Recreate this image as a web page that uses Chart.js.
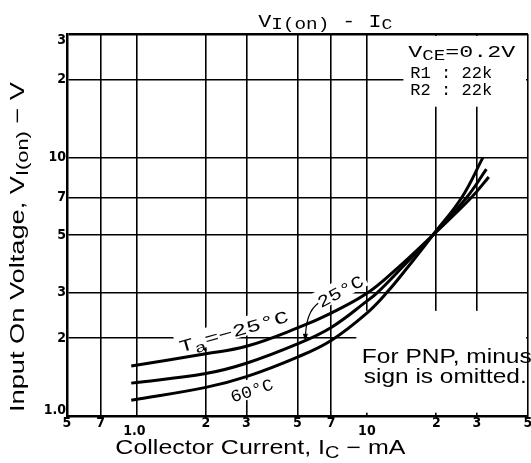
<!DOCTYPE html>
<html>
<head>
<meta charset="utf-8">
<script src="https://cdn.jsdelivr.net/npm/chart.js@4.4.1/dist/chart.umd.min.js"></script>
<style>
  html, body { margin: 0; padding: 0; background: #fff; }
  canvas { display: block; }
</style>
</head>
<body>
<canvas id="chart" width="531" height="463"></canvas>
<script>
// Axis ticks (log-log grid)
const xTicks = [0.5, 0.7, 1, 2, 3, 5, 7, 10, 20, 30, 50];
const xTickLabels = ['5', '7', '1.0', '2', '3', '5', '7', '10', '2', '3', '5'];
const yTicks = [1, 2, 3, 5, 7, 10, 20, 30];
const yTickLabels = ['1.0', '2', '3', '5', '7', '10', '2', '3'];

// Curves: IC (mA) vs VI(on) (V)
const icM25 = [0.95, 2, 3, 5, 7, 10, 13.2, 19.3, 28.4, 33.8];
const viM25 = [1.56, 1.74, 1.86, 2.19, 2.50, 2.98, 3.65, 5.0, 7.0, 8.4];
const ic25 = [0.95, 2, 3, 5, 7, 10, 11.1, 14, 19.3, 27.1, 33.0];
const vi25 = [1.34, 1.46, 1.60, 1.90, 2.2, 2.78, 3.0, 3.7, 5.0, 7.0, 9.0];
const ic60 = [0.95, 2, 3, 5, 7, 10, 12.2, 15, 19.3, 25.8, 31.9];
const vi60 = [1.15, 1.29, 1.42, 1.69, 1.96, 2.5, 3.0, 3.75, 5.0, 7.0, 10.0];

const pts = (xs, ys) => xs.map((x, i) => ({ x: x, y: ys[i] }));

const MONO = "'Liberation Mono', 'DejaVu Sans Mono', monospace";
const SANS = "'Liberation Sans', Arial, sans-serif";
const TICKF = "bold 14px 'DejaVu Sans Condensed', 'DejaVu Sans', sans-serif";

// draw a run of text pieces (for sub-scripts), squeezed/stretched to a width
function richText(ctx, parts, x, y, width, align) {
  let total = 0;
  parts.forEach(p => { ctx.font = p.font; p.w = ctx.measureText(p.t).width; total += p.w; });
  const s = width ? width / total : 1;
  ctx.save();
  ctx.translate(x, y);
  ctx.scale(s, 1);
  let cx = align === 'center' ? -total / 2 : 0;
  ctx.textAlign = 'left';
  ctx.textBaseline = 'alphabetic';
  parts.forEach(p => { ctx.font = p.font; ctx.fillText(p.t, cx, p.dy || 0); cx += p.w; });
  ctx.restore();
}

function rotatedLabel(ctx, parts, cx, cy, angle, width, bg) {
  ctx.save();
  ctx.translate(cx, cy);
  ctx.rotate(angle * Math.PI / 180);
  if (bg) {
    ctx.fillStyle = '#fff';
    ctx.fillRect(-width / 2 - 3, -11, width + 6, 19);
  } else {
    ctx.fillStyle = '#000';
    richText(ctx, parts, 0, 6, width, 'center');
  }
  ctx.restore();
}

const labels = [
  { parts: [{ t: 'T', font: '17px ' + MONO }, { t: 'a', font: '14px ' + MONO, dy: 5 }, { t: '=\u221225\u00b0C', font: '17px ' + MONO }], x: 2.64, y: 2.13, angle: -16, w: 113 },
  { parts: [{ t: '25\u00b0C', font: '17px ' + MONO }], x: 7.66, y: 3.04, angle: -28, w: 50 },
  { parts: [{ t: '60\u00b0C', font: '17px ' + MONO }], x: 3.16, y: 1.26, angle: -18, w: 44 }
];

const annotate = {
  id: 'annotate',
  beforeDatasetsDraw(chart) {
    const ctx = chart.ctx, xs = chart.scales.x, ys = chart.scales.y;
    ctx.save();
    ctx.fillStyle = '#fff';
    // note boxes
    ctx.fillRect(xs.getPixelForValue(14.4), ys.getPixelForValue(30) + 2, xs.getPixelForValue(50) - xs.getPixelForValue(14.4) - 2, ys.getPixelForValue(15.7) - ys.getPixelForValue(30) - 2);
    ctx.fillRect(xs.getPixelForValue(9.0), ys.getPixelForValue(2.55), xs.getPixelForValue(50) - xs.getPixelForValue(9.0) - 2, ys.getPixelForValue(1.03) - ys.getPixelForValue(2.55));
    labels.forEach(l => rotatedLabel(ctx, l.parts, xs.getPixelForValue(l.x), ys.getPixelForValue(l.y), l.angle, l.w, true));
    ctx.restore();
  },
  afterDatasetsDraw(chart) {
    const ctx = chart.ctx, xs = chart.scales.x, ys = chart.scales.y;
    const a = chart.chartArea;
    ctx.save();
    ctx.fillStyle = '#000';
    ctx.strokeStyle = '#000';

    // tick labels
    ctx.font = TICKF;
    ctx.textAlign = 'center';
    ctx.textBaseline = 'middle';
    xTicks.forEach((v, i) => {
      const lab = xTickLabels[i];
      const low = (lab === '1.0' || lab === '10');
      ctx.fillText(lab, xs.getPixelForValue(v) + (lab === '1.0' ? -2 : 0), a.bottom + (low ? 15 : 7));
    });
    ctx.textAlign = 'right';
    yTicks.forEach((v, i) => {
      let off = 0;
      if (v === 30) off = 6;
      if (v === 1) off = -6;
      ctx.fillText(yTickLabels[i], a.left - 1, ys.getPixelForValue(v) + off);
    });

    // title
    const tx = xs.getPixelForValue(6.6);
    richText(ctx, [
      { t: 'V', font: '18px ' + MONO },
      { t: 'I(on)', font: '16px ' + MONO, dy: 2 },
      { t: ' - I', font: '18px ' + MONO },
      { t: 'C', font: '15px ' + MONO, dy: 2 }
    ], tx, 27, 134, 'center');

    // axis titles
    richText(ctx, [
      { t: 'Collector Current, I', font: '20px ' + SANS },
      { t: 'C', font: '16px ' + SANS, dy: 4 },
      { t: ' \u2212 mA', font: '20px ' + SANS }
    ], xs.getPixelForValue(3.45), 454, 290, 'center');
    ctx.save();
    ctx.translate(24, ys.getPixelForValue(4.5));
    ctx.rotate(-Math.PI / 2);
    richText(ctx, [
      { t: 'Input On Voltage, V', font: '20px ' + SANS },
      { t: 'I(on)', font: '16px ' + SANS, dy: 4 },
      { t: ' \u2212 V', font: '20px ' + SANS }
    ], 0, 0, 330, 'center');
    ctx.restore();

    // condition box
    const bx = xs.getPixelForValue(15.1);
    richText(ctx, [
      { t: 'V', font: '17px ' + MONO },
      { t: 'CE', font: '14px ' + MONO, dy: 3 },
      { t: '=0.2V', font: '17px ' + MONO }
    ], bx, ys.getPixelForValue(30) + 23, 107, 'left');
    richText(ctx, [{ t: 'R1 : 22k', font: '17px ' + MONO }], bx + 2, ys.getPixelForValue(20) - 2, 82, 'left');
    richText(ctx, [{ t: 'R2 : 22k', font: '17px ' + MONO }], bx + 2, ys.getPixelForValue(20) + 15, 82, 'left');

    // PNP note
    const nx = xs.getPixelForValue(9.5);
    richText(ctx, [{ t: 'For PNP, minus', font: '20px ' + SANS }], nx, ys.getPixelForValue(1.6), 170, 'left');
    richText(ctx, [{ t: 'sign is omitted.', font: '20px ' + SANS }], nx + 2, ys.getPixelForValue(1.6) + 20, 163, 'left');

    // curve labels
    labels.forEach(l => rotatedLabel(ctx, l.parts, xs.getPixelForValue(l.x), ys.getPixelForValue(l.y), l.angle, l.w, false));

    // leader for 25°C
    const p0 = [xs.getPixelForValue(6.15), ys.getPixelForValue(2.73)];
    const pc = [xs.getPixelForValue(5.41), ys.getPixelForValue(2.52)];
    const p1 = [xs.getPixelForValue(5.41), ys.getPixelForValue(1.97)];
    ctx.lineWidth = 1.2;
    ctx.beginPath();
    ctx.moveTo(p0[0], p0[1]);
    ctx.quadraticCurveTo(pc[0], pc[1], p1[0], p1[1]);
    ctx.stroke();
    ctx.beginPath();
    ctx.moveTo(p1[0], p1[1] + 2);
    ctx.lineTo(p1[0] - 2.5, p1[1] - 6);
    ctx.lineTo(p1[0] + 2.5, p1[1] - 6);
    ctx.closePath();
    ctx.fill();
    ctx.restore();
  }
};

const lineStyle = { borderColor: '#000', borderWidth: 3, pointRadius: 0, tension: 0.4, fill: false };

new Chart(document.getElementById('chart'), {
  type: 'line',
  data: {
    datasets: [
      Object.assign({ label: 'Ta = -25°C', data: pts(icM25, viM25) }, lineStyle),
      Object.assign({ label: 'Ta = 25°C', data: pts(ic25, vi25) }, lineStyle),
      Object.assign({ label: 'Ta = 60°C', data: pts(ic60, vi60) }, lineStyle)
    ]
  },
  options: {
    responsive: false,
    animation: false,
    devicePixelRatio: 1,
    layout: { padding: { left: 67, top: 34, right: 3, bottom: 47 } },
    plugins: { legend: { display: false }, tooltip: { enabled: false } },
    scales: {
      x: {
        type: 'logarithmic', min: 0.5, max: 50,
        afterBuildTicks: s => { s.ticks = xTicks.map(v => ({ value: v })); },
        ticks: { display: false },
        grid: { color: '#000', lineWidth: 1.6, drawTicks: false },
        border: { color: '#000', width: 2.5 }
      },
      y: {
        type: 'logarithmic', min: 1, max: 30,
        afterBuildTicks: s => { s.ticks = yTicks.map(v => ({ value: v })); },
        ticks: { display: false },
        grid: { color: '#000', lineWidth: ctx => (ctx.tick && ctx.tick.value === 30 ? 2.4 : 1.6), drawTicks: false },
        border: { color: '#000', width: 2.5 }
      }
    }
  },
  plugins: [annotate]
});
</script>
</body>
</html>
